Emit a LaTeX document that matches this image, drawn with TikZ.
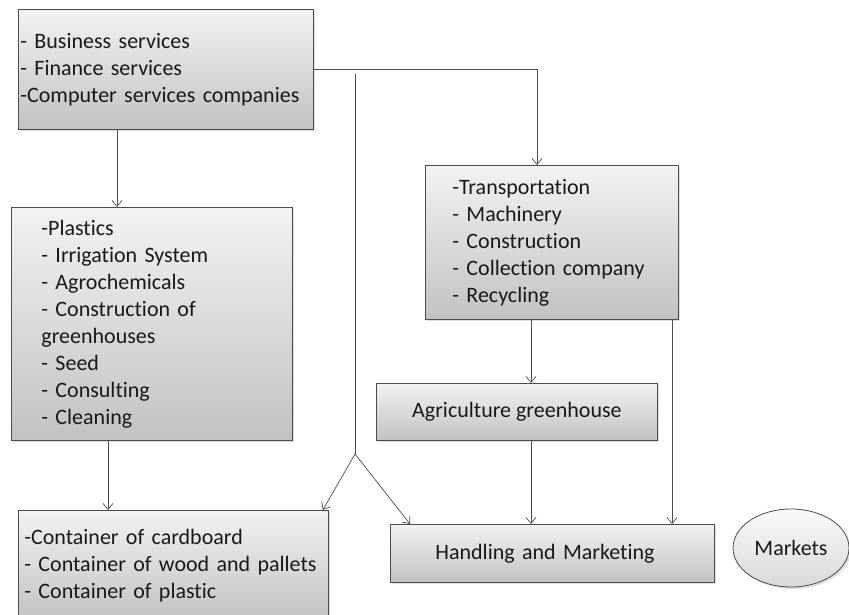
\documentclass[tikz,border=0pt]{standalone}
\usepackage{fontspec}
\setmainfont{Carlito}[Ligatures={NoCommon}]
\usepackage{tikz}
\usetikzlibrary{shapes.geometric}
\usetikzlibrary{shadows}
\usetikzlibrary{arrows.meta}

\begin{document}
\begin{tikzpicture}[x=1pt, y=-1pt,
		box/.style={draw=black!70, line width=0.8pt, top color=gray!10, bottom color=gray!48,
			drop shadow={shadow xshift=2pt, shadow yshift=-2pt, opacity=0.25},
			font=\fontsize{22}{27}\selectfont, text=black!90, anchor=north west, align=left},
		oval/.style={box, ellipse, anchor=center, inner sep=0pt, top color=gray!4, bottom color=gray!30},
		conn/.style={draw=black!70, line width=0.7pt},
		arr/.style={conn, -{Straight Barb[length=6pt,width=10pt]}}]

	\useasboundingbox (0,0) rectangle (849,615);

	\node[box, minimum width=295pt, minimum height=120pt, inner xsep=2pt, text width=291pt] (services) at (18,9)
		{- Business services\\- Finance services\\-Computer services companies};

	\node[box, minimum width=281pt, minimum height=233pt, inner xsep=30pt, text width=221pt] (plastics) at (11,207)
		{-Plastics\\- Irrigation System\\- Agrochemicals\\- Construction of\\greenhouses\\- Seed\\- Consulting\\- Cleaning};

	\node[box, minimum width=253pt, minimum height=154pt, inner xsep=27pt, text width=199pt] (transport) at (425,165)
		{-Transportation\\- Machinery\\- Construction\\- Collection company\\- Recycling};

	\node[box, minimum width=281pt, minimum height=57pt, align=center] (agri) at (376,383)
		{Agriculture greenhouse};

	\node[box, minimum width=310pt, minimum height=110pt, inner xsep=6pt, text width=298pt] (containers) at (18,510)
		{-Container of cardboard\\\mbox{- Container of wood and pallets}\\- Container of plastic};

	\node[box, minimum width=324pt, minimum height=58pt, inner xsep=45pt, text width=234pt] (handling) at (390,524)
		{Handling and Marketing};

	\node[oval, minimum width=116pt, minimum height=78pt] (markets) at (791,548) {Markets};

	% columns of the vertical connectors
	\coordinate (colA) at (117,0);
	\coordinate (colB) at (108,0);
	\coordinate (colC) at (537,0);
	\coordinate (colD) at (531,0);
	\coordinate (colE) at (672,0);
	\coordinate (trunk) at (355,74);
	\coordinate (fork) at (355,454);

	\draw[arr] (services.south -| colA) -- (plastics.north -| colA);
	\draw[arr] (services.east) -| (colC |- transport.north);
	\draw[arr] (plastics.south -| colB) -- (containers.north -| colB);
	\draw[arr] (transport.south -| colD) -- (agri.north -| colD);
	\draw[arr] (agri.south -| colD) -- (handling.north -| colD);
	\draw[arr] (transport.south -| colE) -- (handling.north -| colE);

	\draw[conn] (trunk) -- (fork);
	\draw[arr] (fork) -- ([xshift=-6pt]containers.north east);
	\draw[arr] (fork) -- ([xshift=20pt]handling.north west);

\end{tikzpicture}
\end{document}
